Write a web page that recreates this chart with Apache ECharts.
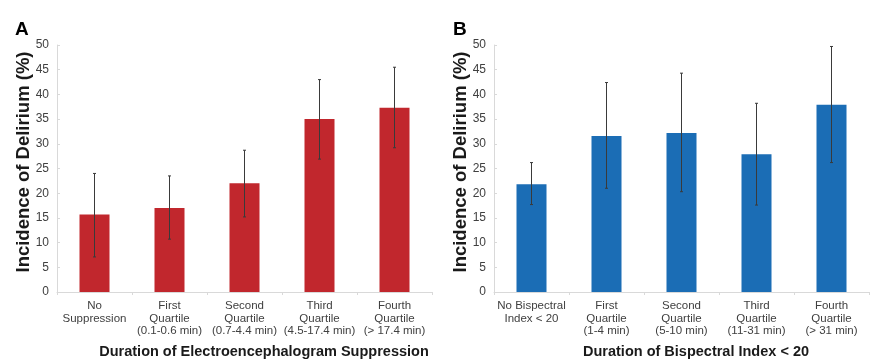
<!DOCTYPE html>
<html><head><meta charset="utf-8">
<script src="https://cdn.jsdelivr.net/npm/echarts@6/dist/echarts.min.js"></script>
<style>html,body{margin:0;padding:0;background:#fff}#c{width:883px;height:364px}</style>
</head><body><div id="c"></div>
<script>
var categoriesA = ['No\nSuppression', 'First\nQuartile\n(0.1-0.6 min)', 'Second\nQuartile\n(0.7-4.4 min)', 'Third\nQuartile\n(4.5-17.4 min)', 'Fourth\nQuartile\n(> 17.4 min)'];
var valuesA = [15.7, 17.0, 22.0, 35.0, 37.3];
var lowA = [7.1, 10.7, 15.2, 26.9, 29.2];
var highA = [24.0, 23.5, 28.7, 43.0, 45.5];

var categoriesB = ['No Bispectral\nIndex < 20', 'First\nQuartile\n(1-4 min)', 'Second\nQuartile\n(5-10 min)', 'Third\nQuartile\n(11-31 min)', 'Fourth\nQuartile\n(> 31 min)'];
var valuesB = [21.8, 31.6, 32.2, 27.9, 37.9];
var lowB = [17.7, 21.0, 20.3, 17.6, 26.2];
var highB = [26.2, 42.4, 44.3, 38.2, 49.7];

var yTicks = [0, 5, 10, 15, 20, 25, 30, 35, 40, 45, 50];

var FONT = '"Liberation Sans", Arial, sans-serif';

function errData(low, high) {
  return low.map(function (l, i) { return [i, l, high[i]]; });
}
function errRender(params, api) {
  var x = api.value(0);
  var lo = api.coord([x, api.value(1)]);
  var hi = api.coord([x, api.value(2)]);
  var cw = 1.5;
  var st = {stroke: '#3a3a3a', lineWidth: 1};
  return {type: 'group', children: [
    {type: 'line', shape: {x1: lo[0], y1: lo[1], x2: hi[0], y2: hi[1]}, style: st},
    {type: 'line', shape: {x1: hi[0] - cw, y1: hi[1], x2: hi[0] + cw, y2: hi[1]}, style: st},
    {type: 'line', shape: {x1: lo[0] - cw, y1: lo[1], x2: lo[0] + cw, y2: lo[1]}, style: st}
  ]};
}
function xAxis(gi, cats) {
  return {
    type: 'category', gridIndex: gi, data: cats,
    axisLine: {lineStyle: {color: '#d9d9d9', width: 1}},
    axisTick: {show: true, length: 3, lineStyle: {color: '#d9d9d9'}},
    axisLabel: {color: '#404040', fontSize: 11.5, fontFamily: FONT, lineHeight: 12.5, margin: 8, interval: 0}
  };
}
function yAxis(gi) {
  return {
    type: 'value', gridIndex: gi, min: 0, max: 50, interval: 5,
    axisLine: {show: true, lineStyle: {color: '#d9d9d9', width: 1}},
    axisTick: {show: true, inside: true, length: 3, lineStyle: {color: '#d9d9d9'}},
    splitLine: {show: false},
    axisLabel: {color: '#404040', fontSize: 12, fontFamily: FONT, margin: 8,
      formatter: function (v) { return yTicks.indexOf(v) >= 0 ? String(v) : ''; }}
  };
}
var chart = echarts.init(document.getElementById('c'), null, {renderer: 'canvas'});
chart.setOption({
  animation: false,
  backgroundColor: '#fff',
  grid: [
    {left: 57, right: 451, top: 45, bottom: 72},
    {left: 494, right: 14, top: 45, bottom: 72}
  ],
  graphic: [
    {type: 'text', left: 15, top: 20, style: {text: 'A', font: 'bold 19px ' + FONT, fill: '#000'}},
    {type: 'text', left: 453, top: 20, style: {text: 'B', font: 'bold 19px ' + FONT, fill: '#000'}},
    {type: 'text', x: 24, y: 162, rotation: Math.PI / 2, style: {text: 'Incidence of Delirium (%)', font: 'bold 18.5px ' + FONT, fill: '#1a1a1a', align: 'center', verticalAlign: 'middle'}},
    {type: 'text', x: 461, y: 162, rotation: Math.PI / 2, style: {text: 'Incidence of Delirium (%)', font: 'bold 18.5px ' + FONT, fill: '#1a1a1a', align: 'center', verticalAlign: 'middle'}},
    {type: 'text', x: 264, y: 352, style: {text: 'Duration of Electroencephalogram Suppression', font: 'bold 14.5px ' + FONT, fill: '#1a1a1a', align: 'center', verticalAlign: 'middle'}},
    {type: 'text', x: 696, y: 352, style: {text: 'Duration of Bispectral Index < 20', font: 'bold 14.5px ' + FONT, fill: '#1a1a1a', align: 'center', verticalAlign: 'middle'}}
  ],
  xAxis: [xAxis(0, categoriesA), xAxis(1, categoriesB)],
  yAxis: [yAxis(0), yAxis(1)],
  series: [
    {type: 'bar', xAxisIndex: 0, yAxisIndex: 0, data: valuesA, barWidth: 30, itemStyle: {color: '#c1272d'}},
    {type: 'custom', xAxisIndex: 0, yAxisIndex: 0, data: errData(lowA, highA), renderItem: errRender, z: 5},
    {type: 'bar', xAxisIndex: 1, yAxisIndex: 1, data: valuesB, barWidth: 30, itemStyle: {color: '#1b6db5'}},
    {type: 'custom', xAxisIndex: 1, yAxisIndex: 1, data: errData(lowB, highB), renderItem: errRender, z: 5}
  ]
});
</script></body></html>
